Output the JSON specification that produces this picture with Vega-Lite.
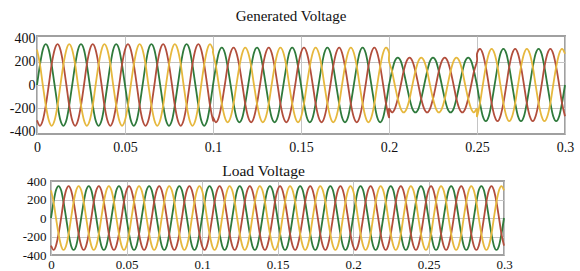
{
 "$schema": "https://vega.github.io/schema/vega-lite/v6.json",
 "background": "white",
 "padding": {"left": 0, "top": 8, "right": 5, "bottom": 0},
 "spacing": 7,
 "config": {
  "font": "Liberation Serif",
  "view": {"stroke": "#a0a0a0", "strokeWidth": 2},
  "style": {"guide-label": {"font": "Liberation Serif"}, "guide-title": {"font": "Liberation Serif"}},
  "axis": {"labelFont": "Liberation Serif", "labelColor": "#111", "grid": true, "gridColor": "#c4c4c4", "ticks": false, "domain": false, "title": null, "labelOverlap": false, "labelFlush": false},
  "title": {"font": "Liberation Serif", "fontWeight": "normal", "color": "#111"}
 },
 "datasets": {
  "gen": [
   {"t":0,"a":0,"b":-303,"c":303},{"t":0.0017,"a":175,"b":-350,"c":175},{"t":0.0033,"a":303,"b":-303,"c":0},{"t":0.005,"a":350,"b":-175,"c":-175},{"t":0.0067,"a":303,"b":0,"c":-303},{"t":0.0083,"a":175,"b":175,"c":-350},{"t":0.01,"a":0,"b":303,"c":-303},{"t":0.0117,"a":-175,"b":350,"c":-175},{"t":0.0133,"a":-303,"b":303,"c":0},{"t":0.015,"a":-350,"b":175,"c":175},{"t":0.0167,"a":-303,"b":0,"c":303},{"t":0.0183,"a":-175,"b":-175,"c":350},
   {"t":0.02,"a":0,"b":-303,"c":303},{"t":0.0217,"a":175,"b":-350,"c":175},{"t":0.0233,"a":303,"b":-303,"c":0},{"t":0.025,"a":350,"b":-175,"c":-175},{"t":0.0267,"a":303,"b":0,"c":-303},{"t":0.0283,"a":175,"b":175,"c":-350},{"t":0.03,"a":0,"b":303,"c":-303},{"t":0.0317,"a":-175,"b":350,"c":-175},{"t":0.0333,"a":-303,"b":303,"c":0},{"t":0.035,"a":-350,"b":175,"c":175},{"t":0.0367,"a":-303,"b":0,"c":303},{"t":0.0383,"a":-175,"b":-175,"c":350},
   {"t":0.04,"a":0,"b":-303,"c":303},{"t":0.0417,"a":175,"b":-350,"c":175},{"t":0.0433,"a":303,"b":-303,"c":0},{"t":0.045,"a":350,"b":-175,"c":-175},{"t":0.0467,"a":303,"b":0,"c":-303},{"t":0.0483,"a":175,"b":175,"c":-350},{"t":0.05,"a":0,"b":303,"c":-303},{"t":0.0517,"a":-175,"b":350,"c":-175},{"t":0.0533,"a":-303,"b":303,"c":0},{"t":0.055,"a":-350,"b":175,"c":175},{"t":0.0567,"a":-303,"b":0,"c":303},{"t":0.0583,"a":-175,"b":-175,"c":350},
   {"t":0.06,"a":0,"b":-303,"c":303},{"t":0.0617,"a":175,"b":-350,"c":175},{"t":0.0633,"a":303,"b":-303,"c":0},{"t":0.065,"a":350,"b":-175,"c":-175},{"t":0.0667,"a":303,"b":0,"c":-303},{"t":0.0683,"a":175,"b":175,"c":-350},{"t":0.07,"a":0,"b":303,"c":-303},{"t":0.0717,"a":-175,"b":350,"c":-175},{"t":0.0733,"a":-303,"b":303,"c":0},{"t":0.075,"a":-350,"b":175,"c":175},{"t":0.0767,"a":-303,"b":0,"c":303},{"t":0.0783,"a":-175,"b":-175,"c":350},
   {"t":0.08,"a":0,"b":-303,"c":303},{"t":0.0817,"a":175,"b":-350,"c":175},{"t":0.0833,"a":303,"b":-303,"c":0},{"t":0.085,"a":350,"b":-175,"c":-175},{"t":0.0867,"a":303,"b":0,"c":-303},{"t":0.0883,"a":175,"b":175,"c":-350},{"t":0.09,"a":0,"b":303,"c":-303},{"t":0.0917,"a":-175,"b":350,"c":-175},{"t":0.0933,"a":-303,"b":303,"c":0},{"t":0.095,"a":-350,"b":175,"c":175},{"t":0.0967,"a":-303,"b":0,"c":303},{"t":0.0983,"a":-175,"b":-175,"c":350},
   {"t":0.1,"a":0,"b":-303,"c":303},
   {"t":0.1,"a":0,"b":-277,"c":277},{"t":0.1017,"a":160,"b":-320,"c":160},{"t":0.1033,"a":277,"b":-277,"c":0},{"t":0.105,"a":320,"b":-160,"c":-160},{"t":0.1067,"a":277,"b":0,"c":-277},{"t":0.1083,"a":160,"b":160,"c":-320},{"t":0.11,"a":0,"b":277,"c":-277},{"t":0.1117,"a":-160,"b":320,"c":-160},{"t":0.1133,"a":-277,"b":277,"c":0},{"t":0.115,"a":-320,"b":160,"c":160},{"t":0.1167,"a":-277,"b":0,"c":277},{"t":0.1183,"a":-160,"b":-160,"c":320},
   {"t":0.12,"a":0,"b":-277,"c":277},{"t":0.1217,"a":160,"b":-320,"c":160},{"t":0.1233,"a":277,"b":-277,"c":0},{"t":0.125,"a":320,"b":-160,"c":-160},{"t":0.1267,"a":277,"b":0,"c":-277},{"t":0.1283,"a":160,"b":160,"c":-320},{"t":0.13,"a":0,"b":277,"c":-277},{"t":0.1317,"a":-160,"b":320,"c":-160},{"t":0.1333,"a":-277,"b":277,"c":0},{"t":0.135,"a":-320,"b":160,"c":160},{"t":0.1367,"a":-277,"b":0,"c":277},{"t":0.1383,"a":-160,"b":-160,"c":320},
   {"t":0.14,"a":0,"b":-277,"c":277},{"t":0.1417,"a":160,"b":-320,"c":160},{"t":0.1433,"a":277,"b":-277,"c":0},{"t":0.145,"a":320,"b":-160,"c":-160},{"t":0.1467,"a":277,"b":0,"c":-277},{"t":0.1483,"a":160,"b":160,"c":-320},{"t":0.15,"a":0,"b":277,"c":-277},{"t":0.1517,"a":-160,"b":320,"c":-160},{"t":0.1533,"a":-277,"b":277,"c":0},{"t":0.155,"a":-320,"b":160,"c":160},{"t":0.1567,"a":-277,"b":0,"c":277},{"t":0.1583,"a":-160,"b":-160,"c":320},
   {"t":0.16,"a":0,"b":-277,"c":277},{"t":0.1617,"a":160,"b":-320,"c":160},{"t":0.1633,"a":277,"b":-277,"c":0},{"t":0.165,"a":320,"b":-160,"c":-160},{"t":0.1667,"a":277,"b":0,"c":-277},{"t":0.1683,"a":160,"b":160,"c":-320},{"t":0.17,"a":0,"b":277,"c":-277},{"t":0.1717,"a":-160,"b":320,"c":-160},{"t":0.1733,"a":-277,"b":277,"c":0},{"t":0.175,"a":-320,"b":160,"c":160},{"t":0.1767,"a":-277,"b":0,"c":277},{"t":0.1783,"a":-160,"b":-160,"c":320},
   {"t":0.18,"a":0,"b":-277,"c":277},{"t":0.1817,"a":160,"b":-320,"c":160},{"t":0.1833,"a":277,"b":-277,"c":0},{"t":0.185,"a":320,"b":-160,"c":-160},{"t":0.1867,"a":277,"b":0,"c":-277},{"t":0.1883,"a":160,"b":160,"c":-320},{"t":0.19,"a":0,"b":277,"c":-277},{"t":0.1917,"a":-160,"b":320,"c":-160},{"t":0.1933,"a":-277,"b":277,"c":0},{"t":0.195,"a":-320,"b":160,"c":160},{"t":0.1967,"a":-277,"b":0,"c":277},{"t":0.1983,"a":-160,"b":-160,"c":320},
   {"t":0.2,"a":0,"b":-277,"c":277},
   {"t":0.2,"a":0,"b":-204,"c":204},{"t":0.2017,"a":118,"b":-235,"c":118},{"t":0.2033,"a":204,"b":-204,"c":0},{"t":0.205,"a":235,"b":-118,"c":-118},{"t":0.2067,"a":204,"b":0,"c":-204},{"t":0.2083,"a":118,"b":118,"c":-235},{"t":0.21,"a":0,"b":204,"c":-204},{"t":0.2117,"a":-118,"b":235,"c":-118},{"t":0.2133,"a":-204,"b":204,"c":0},{"t":0.215,"a":-235,"b":118,"c":118},{"t":0.2167,"a":-204,"b":0,"c":204},{"t":0.2183,"a":-118,"b":-118,"c":235},
   {"t":0.22,"a":0,"b":-204,"c":204},{"t":0.2217,"a":118,"b":-235,"c":118},{"t":0.2233,"a":204,"b":-204,"c":0},{"t":0.225,"a":235,"b":-118,"c":-118},{"t":0.2267,"a":204,"b":0,"c":-204},{"t":0.2283,"a":118,"b":118,"c":-235},{"t":0.23,"a":0,"b":204,"c":-204},{"t":0.2317,"a":-118,"b":235,"c":-118},{"t":0.2333,"a":-204,"b":204,"c":0},{"t":0.235,"a":-235,"b":118,"c":118},{"t":0.2367,"a":-204,"b":0,"c":204},{"t":0.2383,"a":-118,"b":-118,"c":235},
   {"t":0.24,"a":0,"b":-204,"c":204},{"t":0.2417,"a":118,"b":-235,"c":118},{"t":0.2433,"a":204,"b":-204,"c":0},{"t":0.245,"a":235,"b":-118,"c":-118},{"t":0.2467,"a":204,"b":0,"c":-204},{"t":0.2483,"a":118,"b":118,"c":-235},{"t":0.25,"a":0,"b":204,"c":-204},
   {"t":0.25,"a":0,"b":268,"c":-268},{"t":0.2517,"a":-155,"b":310,"c":-155},{"t":0.2533,"a":-268,"b":268,"c":0},{"t":0.255,"a":-310,"b":155,"c":155},{"t":0.2567,"a":-268,"b":0,"c":268},{"t":0.2583,"a":-155,"b":-155,"c":310},
   {"t":0.26,"a":0,"b":-268,"c":268},{"t":0.2617,"a":155,"b":-310,"c":155},{"t":0.2633,"a":268,"b":-268,"c":0},{"t":0.265,"a":310,"b":-155,"c":-155},{"t":0.2667,"a":268,"b":0,"c":-268},{"t":0.2683,"a":155,"b":155,"c":-310},{"t":0.27,"a":0,"b":268,"c":-268},{"t":0.2717,"a":-155,"b":310,"c":-155},{"t":0.2733,"a":-268,"b":268,"c":0},{"t":0.275,"a":-310,"b":155,"c":155},{"t":0.2767,"a":-268,"b":0,"c":268},{"t":0.2783,"a":-155,"b":-155,"c":310},
   {"t":0.28,"a":0,"b":-268,"c":268},{"t":0.2817,"a":155,"b":-310,"c":155},{"t":0.2833,"a":268,"b":-268,"c":0},{"t":0.285,"a":310,"b":-155,"c":-155},{"t":0.2867,"a":268,"b":0,"c":-268},{"t":0.2883,"a":155,"b":155,"c":-310},{"t":0.29,"a":0,"b":268,"c":-268},{"t":0.2917,"a":-155,"b":310,"c":-155},{"t":0.2933,"a":-268,"b":268,"c":0},{"t":0.295,"a":-310,"b":155,"c":155},{"t":0.2967,"a":-268,"b":0,"c":268},{"t":0.2983,"a":-155,"b":-155,"c":310},
   {"t":0.3,"a":0,"b":-268,"c":268}
  ],
  "load": [
   {"t":0,"a":0,"b":-299,"c":299},{"t":0.0017,"a":173,"b":-345,"c":173},{"t":0.0033,"a":299,"b":-299,"c":0},{"t":0.005,"a":345,"b":-173,"c":-173},{"t":0.0067,"a":299,"b":0,"c":-299},{"t":0.0083,"a":173,"b":173,"c":-345},{"t":0.01,"a":0,"b":299,"c":-299},{"t":0.0117,"a":-173,"b":345,"c":-173},{"t":0.0133,"a":-299,"b":299,"c":0},{"t":0.015,"a":-345,"b":173,"c":173},{"t":0.0167,"a":-299,"b":0,"c":299},{"t":0.0183,"a":-173,"b":-173,"c":345},
   {"t":0.02,"a":0,"b":-299,"c":299},{"t":0.0217,"a":173,"b":-345,"c":173},{"t":0.0233,"a":299,"b":-299,"c":0},{"t":0.025,"a":345,"b":-173,"c":-173},{"t":0.0267,"a":299,"b":0,"c":-299},{"t":0.0283,"a":173,"b":173,"c":-345},{"t":0.03,"a":0,"b":299,"c":-299},{"t":0.0317,"a":-173,"b":345,"c":-173},{"t":0.0333,"a":-299,"b":299,"c":0},{"t":0.035,"a":-345,"b":173,"c":173},{"t":0.0367,"a":-299,"b":0,"c":299},{"t":0.0383,"a":-173,"b":-173,"c":345},
   {"t":0.04,"a":0,"b":-299,"c":299},{"t":0.0417,"a":173,"b":-345,"c":173},{"t":0.0433,"a":299,"b":-299,"c":0},{"t":0.045,"a":345,"b":-173,"c":-173},{"t":0.0467,"a":299,"b":0,"c":-299},{"t":0.0483,"a":173,"b":173,"c":-345},{"t":0.05,"a":0,"b":299,"c":-299},{"t":0.0517,"a":-173,"b":345,"c":-173},{"t":0.0533,"a":-299,"b":299,"c":0},{"t":0.055,"a":-345,"b":173,"c":173},{"t":0.0567,"a":-299,"b":0,"c":299},{"t":0.0583,"a":-173,"b":-173,"c":345},
   {"t":0.06,"a":0,"b":-299,"c":299},{"t":0.0617,"a":173,"b":-345,"c":173},{"t":0.0633,"a":299,"b":-299,"c":0},{"t":0.065,"a":345,"b":-173,"c":-173},{"t":0.0667,"a":299,"b":0,"c":-299},{"t":0.0683,"a":173,"b":173,"c":-345},{"t":0.07,"a":0,"b":299,"c":-299},{"t":0.0717,"a":-173,"b":345,"c":-173},{"t":0.0733,"a":-299,"b":299,"c":0},{"t":0.075,"a":-345,"b":173,"c":173},{"t":0.0767,"a":-299,"b":0,"c":299},{"t":0.0783,"a":-173,"b":-173,"c":345},
   {"t":0.08,"a":0,"b":-299,"c":299},{"t":0.0817,"a":173,"b":-345,"c":173},{"t":0.0833,"a":299,"b":-299,"c":0},{"t":0.085,"a":345,"b":-173,"c":-173},{"t":0.0867,"a":299,"b":0,"c":-299},{"t":0.0883,"a":173,"b":173,"c":-345},{"t":0.09,"a":0,"b":299,"c":-299},{"t":0.0917,"a":-173,"b":345,"c":-173},{"t":0.0933,"a":-299,"b":299,"c":0},{"t":0.095,"a":-345,"b":173,"c":173},{"t":0.0967,"a":-299,"b":0,"c":299},{"t":0.0983,"a":-173,"b":-173,"c":345},
   {"t":0.1,"a":0,"b":-299,"c":299},{"t":0.1017,"a":173,"b":-345,"c":173},{"t":0.1033,"a":299,"b":-299,"c":0},{"t":0.105,"a":345,"b":-173,"c":-173},{"t":0.1067,"a":299,"b":0,"c":-299},{"t":0.1083,"a":173,"b":173,"c":-345},{"t":0.11,"a":0,"b":299,"c":-299},{"t":0.1117,"a":-173,"b":345,"c":-173},{"t":0.1133,"a":-299,"b":299,"c":0},{"t":0.115,"a":-345,"b":173,"c":173},{"t":0.1167,"a":-299,"b":0,"c":299},{"t":0.1183,"a":-173,"b":-173,"c":345},
   {"t":0.12,"a":0,"b":-299,"c":299},{"t":0.1217,"a":173,"b":-345,"c":173},{"t":0.1233,"a":299,"b":-299,"c":0},{"t":0.125,"a":345,"b":-173,"c":-173},{"t":0.1267,"a":299,"b":0,"c":-299},{"t":0.1283,"a":173,"b":173,"c":-345},{"t":0.13,"a":0,"b":299,"c":-299},{"t":0.1317,"a":-173,"b":345,"c":-173},{"t":0.1333,"a":-299,"b":299,"c":0},{"t":0.135,"a":-345,"b":173,"c":173},{"t":0.1367,"a":-299,"b":0,"c":299},{"t":0.1383,"a":-173,"b":-173,"c":345},
   {"t":0.14,"a":0,"b":-299,"c":299},{"t":0.1417,"a":173,"b":-345,"c":173},{"t":0.1433,"a":299,"b":-299,"c":0},{"t":0.145,"a":345,"b":-173,"c":-173},{"t":0.1467,"a":299,"b":0,"c":-299},{"t":0.1483,"a":173,"b":173,"c":-345},{"t":0.15,"a":0,"b":299,"c":-299},{"t":0.1517,"a":-173,"b":345,"c":-173},{"t":0.1533,"a":-299,"b":299,"c":0},{"t":0.155,"a":-345,"b":173,"c":173},{"t":0.1567,"a":-299,"b":0,"c":299},{"t":0.1583,"a":-173,"b":-173,"c":345},
   {"t":0.16,"a":0,"b":-299,"c":299},{"t":0.1617,"a":173,"b":-345,"c":173},{"t":0.1633,"a":299,"b":-299,"c":0},{"t":0.165,"a":345,"b":-173,"c":-173},{"t":0.1667,"a":299,"b":0,"c":-299},{"t":0.1683,"a":173,"b":173,"c":-345},{"t":0.17,"a":0,"b":299,"c":-299},{"t":0.1717,"a":-173,"b":345,"c":-173},{"t":0.1733,"a":-299,"b":299,"c":0},{"t":0.175,"a":-345,"b":173,"c":173},{"t":0.1767,"a":-299,"b":0,"c":299},{"t":0.1783,"a":-173,"b":-173,"c":345},
   {"t":0.18,"a":0,"b":-299,"c":299},{"t":0.1817,"a":173,"b":-345,"c":173},{"t":0.1833,"a":299,"b":-299,"c":0},{"t":0.185,"a":345,"b":-173,"c":-173},{"t":0.1867,"a":299,"b":0,"c":-299},{"t":0.1883,"a":173,"b":173,"c":-345},{"t":0.19,"a":0,"b":299,"c":-299},{"t":0.1917,"a":-173,"b":345,"c":-173},{"t":0.1933,"a":-299,"b":299,"c":0},{"t":0.195,"a":-345,"b":173,"c":173},{"t":0.1967,"a":-299,"b":0,"c":299},{"t":0.1983,"a":-173,"b":-173,"c":345},
   {"t":0.2,"a":0,"b":-299,"c":299},{"t":0.2017,"a":173,"b":-345,"c":173},{"t":0.2033,"a":299,"b":-299,"c":0},{"t":0.205,"a":345,"b":-173,"c":-173},{"t":0.2067,"a":299,"b":0,"c":-299},{"t":0.2083,"a":173,"b":173,"c":-345},{"t":0.21,"a":0,"b":299,"c":-299},{"t":0.2117,"a":-173,"b":345,"c":-173},{"t":0.2133,"a":-299,"b":299,"c":0},{"t":0.215,"a":-345,"b":173,"c":173},{"t":0.2167,"a":-299,"b":0,"c":299},{"t":0.2183,"a":-173,"b":-173,"c":345},
   {"t":0.22,"a":0,"b":-299,"c":299},{"t":0.2217,"a":173,"b":-345,"c":173},{"t":0.2233,"a":299,"b":-299,"c":0},{"t":0.225,"a":345,"b":-173,"c":-173},{"t":0.2267,"a":299,"b":0,"c":-299},{"t":0.2283,"a":173,"b":173,"c":-345},{"t":0.23,"a":0,"b":299,"c":-299},{"t":0.2317,"a":-173,"b":345,"c":-173},{"t":0.2333,"a":-299,"b":299,"c":0},{"t":0.235,"a":-345,"b":173,"c":173},{"t":0.2367,"a":-299,"b":0,"c":299},{"t":0.2383,"a":-173,"b":-173,"c":345},
   {"t":0.24,"a":0,"b":-299,"c":299},{"t":0.2417,"a":173,"b":-345,"c":173},{"t":0.2433,"a":299,"b":-299,"c":0},{"t":0.245,"a":345,"b":-173,"c":-173},{"t":0.2467,"a":299,"b":0,"c":-299},{"t":0.2483,"a":173,"b":173,"c":-345},{"t":0.25,"a":0,"b":299,"c":-299},{"t":0.2517,"a":-173,"b":345,"c":-173},{"t":0.2533,"a":-299,"b":299,"c":0},{"t":0.255,"a":-345,"b":173,"c":173},{"t":0.2567,"a":-299,"b":0,"c":299},{"t":0.2583,"a":-173,"b":-173,"c":345},
   {"t":0.26,"a":0,"b":-299,"c":299},{"t":0.2617,"a":173,"b":-345,"c":173},{"t":0.2633,"a":299,"b":-299,"c":0},{"t":0.265,"a":345,"b":-173,"c":-173},{"t":0.2667,"a":299,"b":0,"c":-299},{"t":0.2683,"a":173,"b":173,"c":-345},{"t":0.27,"a":0,"b":299,"c":-299},{"t":0.2717,"a":-173,"b":345,"c":-173},{"t":0.2733,"a":-299,"b":299,"c":0},{"t":0.275,"a":-345,"b":173,"c":173},{"t":0.2767,"a":-299,"b":0,"c":299},{"t":0.2783,"a":-173,"b":-173,"c":345},
   {"t":0.28,"a":0,"b":-299,"c":299},{"t":0.2817,"a":173,"b":-345,"c":173},{"t":0.2833,"a":299,"b":-299,"c":0},{"t":0.285,"a":345,"b":-173,"c":-173},{"t":0.2867,"a":299,"b":0,"c":-299},{"t":0.2883,"a":173,"b":173,"c":-345},{"t":0.29,"a":0,"b":299,"c":-299},{"t":0.2917,"a":-173,"b":345,"c":-173},{"t":0.2933,"a":-299,"b":299,"c":0},{"t":0.295,"a":-345,"b":173,"c":173},{"t":0.2967,"a":-299,"b":0,"c":299},{"t":0.2983,"a":-173,"b":-173,"c":345},
   {"t":0.3,"a":0,"b":-299,"c":299}
  ]
 },
 "vconcat": [
  {
   "spacing": 0,
   "hconcat": [
    {"width": 8, "height": 98, "data": {"values": []}, "mark": "point", "view": {"stroke": null}},
    {
     "width": 528,
     "height": 98,
     "title": {"text": "Generated Voltage", "fontSize": 15, "font": "Liberation Serif", "offset": 7, "dx": -10},
     "data": {"name": "gen"},
     "transform": [{"fold": ["a", "b", "c"], "as": ["phase", "v"]}],
     "mark": {"type": "line", "interpolate": "cardinal", "strokeWidth": 1.8},
     "encoding": {
      "x": {"field": "t", "type": "quantitative", "scale": {"domain": [0, 0.3], "nice": false, "zero": false}, "axis": {"values": [0, 0.05, 0.1, 0.15, 0.2, 0.25, 0.3], "format": "~g", "labelFont": "Liberation Serif", "labelFontSize": 14, "labelPadding": 6}},
      "y": {"field": "v", "type": "quantitative", "scale": {"domain": [-420, 420], "nice": false}, "axis": {"values": [-400, -200, 0, 200, 400], "labelExpr": "'' + datum.value", "labelFont": "Liberation Serif", "labelFontSize": 14, "labelPadding": 2, "gridOpacity": {"condition": {"test": "abs(datum.value) > 300", "value": 0}, "value": 1}}},
      "color": {"field": "phase", "type": "nominal", "scale": {"domain": ["a", "b", "c"], "range": ["#2f7a3c", "#b24e3c", "#e6b83e"]}, "legend": null}
     }
    }
   ]
  },
  {
   "spacing": 0,
   "hconcat": [
    {"width": 21, "height": 74, "data": {"values": []}, "mark": "point", "view": {"stroke": null}},
    {
     "width": 453,
     "height": 74,
     "title": {"text": "Load Voltage", "fontSize": 15.5, "font": "Liberation Serif", "offset": -4, "dx": -14},
     "data": {"name": "load"},
     "transform": [{"fold": ["a", "b", "c"], "as": ["phase", "v"]}],
     "mark": {"type": "line", "interpolate": "cardinal", "strokeWidth": 1.8},
     "encoding": {
      "x": {"field": "t", "type": "quantitative", "scale": {"domain": [0, 0.3], "nice": false, "zero": false}, "axis": {"values": [0, 0.05, 0.1, 0.15, 0.2, 0.25, 0.3], "format": "~g", "labelFont": "Liberation Serif", "labelFontSize": 13, "labelPadding": 3}},
      "y": {"field": "v", "type": "quantitative", "scale": {"domain": [-400, 400], "nice": false}, "axis": {"values": [-400, -200, 0, 200, 400], "labelExpr": "'' + datum.value", "labelFont": "Liberation Serif", "labelFontSize": 13, "labelPadding": 5, "gridOpacity": {"condition": {"test": "abs(datum.value) > 300", "value": 0}, "value": 1}}},
      "color": {"field": "phase", "type": "nominal", "scale": {"domain": ["a", "b", "c"], "range": ["#2f7a3c", "#b24e3c", "#e6b83e"]}, "legend": null}
     }
    }
   ]
  }
 ]
}
